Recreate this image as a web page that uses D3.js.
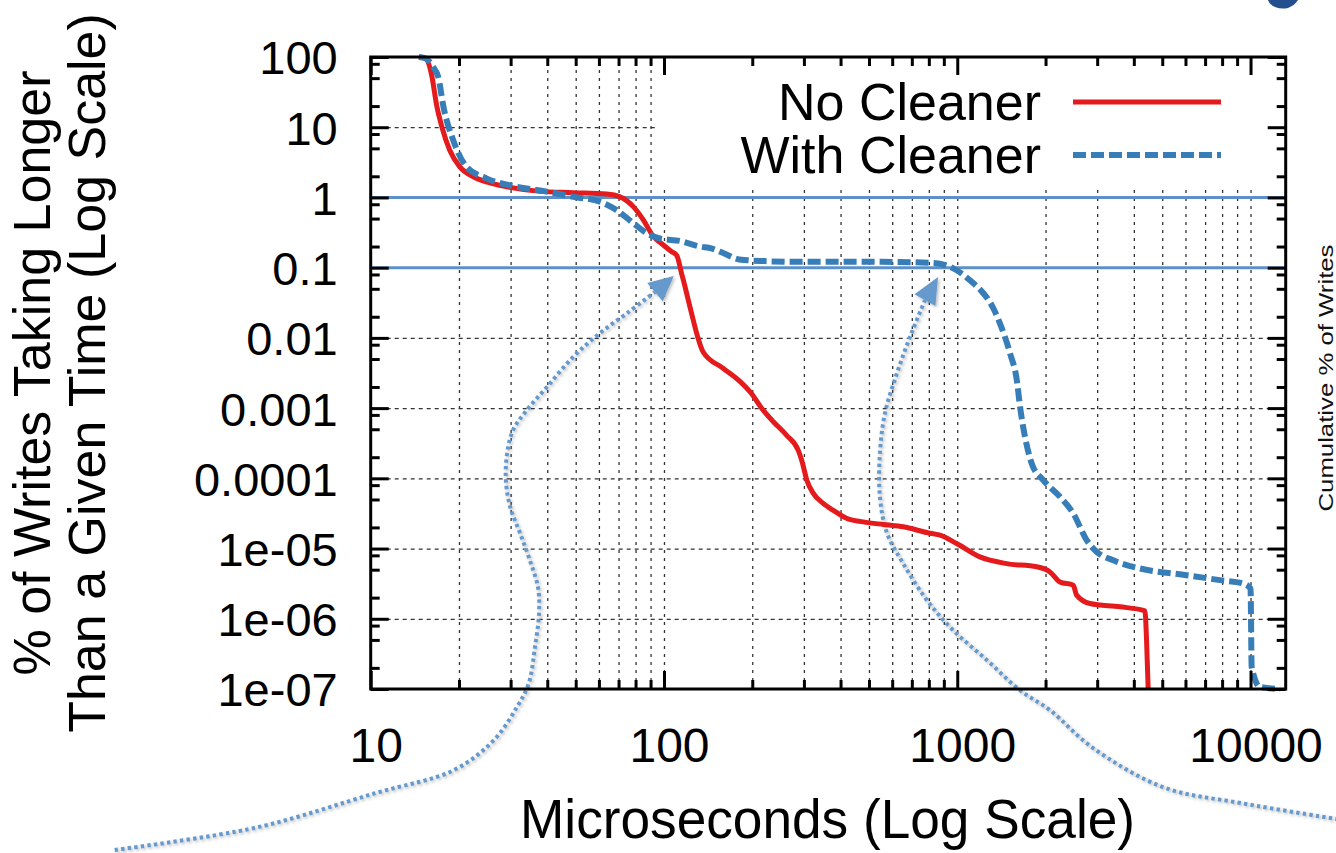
<!DOCTYPE html>
<html><head><meta charset="utf-8">
<script src="https://cdn.jsdelivr.net/npm/d3@7"></script>
<style>
html,body{margin:0;padding:0;background:#fff;}
svg{display:block;font-family:"Liberation Sans",Arial,Helvetica,sans-serif;}
</style>
</head><body>
<svg id="chart" width="1336" height="853"></svg>
<script>
// ---------------- data ----------------
const xTickValues = [10, 100, 1000, 10000];
const xTickLabels = ["10", "100", "1000", "10000"];
const yTickValues = [100, 10, 1, 0.1, 0.01, 0.001, 0.0001, 1e-5, 1e-6, 1e-7];
const yTickLabels = ["100", "10", "1", "0.1", "0.01", "0.001", "0.0001", "1e-05", "1e-06", "1e-07"];
const seriesNames = ["No Cleaner", "With Cleaner"];
const xTitle = "Microseconds (Log Scale)";
const yTitleLines = ["% of Writes Taking Longer", "Than a Given Time (Log Scale)"];
const sideNote = "Cumulative % of Writes";
const referenceLevels = [1, 0.1];

// [microseconds, % of writes taking longer]
const noCleaner = [
  [14.6, 100], [15.4, 95], [16.1, 58], [16.8, 20], [17.5, 10], [18.6, 4.7], [20.1, 2.75],
  [22.4, 1.97], [25, 1.65], [29.1, 1.42], [37.8, 1.22], [49, 1.17], [63.8, 1.12], [70.8, 1.02],
  [78.6, 0.74], [85, 0.48], [91.9, 0.28], [99.5, 0.21], [106, 0.17], [110.5, 0.15], [114.8, 0.083],
  [116.4, 0.067], [120, 0.04], [124.3, 0.022], [130.8, 0.0098], [136, 0.0063], [159, 0.0037],
  [181.5, 0.0024], [199, 0.0016], [215, 0.001], [236, 0.00064], [262, 0.00041], [287, 0.00025],
  [295, 0.00018], [307, 9.4e-5], [323, 6.1e-5], [349, 4.4e-5], [378, 3.5e-5], [419, 2.7e-5],
  [478, 2.4e-5], [560, 2.2e-5], [655, 2.04e-5], [787, 1.69e-5], [874, 1.55e-5], [995, 1.18e-5],
  [1195, 7.6e-6], [1472, 6.1e-6], [1866, 5.5e-6], [2071, 4.65e-6], [2240, 3.35e-6], [2487, 3.0e-6],
  [2553, 2.17e-6], [2833, 1.65e-6], [3586, 1.48e-6], [4365, 1.3e-6], [4420, 5e-7], [4477, 1e-7]
];
const withCleaner = [
  [14.6, 100], [15.4, 95], [16.4, 70], [17.0, 52], [17.7, 19.6], [19.1, 6.6], [21.2, 2.74],
  [24.8, 1.87], [31.5, 1.42], [39.8, 1.21], [49.1, 1.02], [60.5, 0.87], [69, 0.66], [78.6, 0.43],
  [87.3, 0.31], [96.8, 0.26], [113.5, 0.24], [132.8, 0.2], [145, 0.188], [160, 0.16], [180.6, 0.131],
  [220, 0.124], [288, 0.121], [535, 0.121], [826, 0.117], [995, 0.092], [1105, 0.066], [1200, 0.048],
  [1259, 0.038], [1330, 0.026], [1399, 0.016], [1514, 0.006], [1596, 0.0025], [1637, 0.00105],
  [1702, 0.00039], [1794, 0.000163], [1965, 9.4e-5], [2240, 5.45e-5], [2487, 3.16e-5], [2762, 1.32e-5],
  [2987, 9e-6], [3405, 6.8e-6], [4198, 5.2e-6], [6053, 4.18e-6], [7868, 3.55e-6], [9440, 3.18e-6],
  [10000, 2.7e-6], [10090, 2.07e-7], [10770, 1.07e-7], [12600, 1e-7]
];

// annotation call-out arrows, in data units (µs, %)
const annotationA = [
  [1.34, 5.1e-10], [4.1, 1.07e-9], [10.4, 3.3e-9], [19.2, 7.0e-9], [26.3, 1.87e-8], [31.5, 5.5e-8],
  [34.6, 1.21e-7], [36.3, 3.9e-7], [37.5, 1.2e-6], [37.2, 2.8e-6], [34.9, 6.8e-6], [32.3, 1.66e-5],
  [29.9, 3.9e-5], [28.9, 9.4e-5], [29.2, 2.3e-4], [30.6, 4.9e-4], [34.1, 9.4e-4], [39.9, 2.0e-3],
  [48.9, 5.3e-3], [60.5, 0.0117], [74.8, 0.0225], [93.2, 0.045]
];
const annotationATip = [108, 0.076];
const annotationB = [
  [21000, 1.35e-9], [9350, 2.36e-9], [5030, 4.0e-9], [2880, 1.48e-8], [2070, 5.0e-8], [1636, 9.6e-8],
  [1263, 2.57e-7], [967, 6.9e-7], [788, 1.84e-6], [653, 6.2e-6], [576, 1.66e-5], [545, 5.4e-5],
  [545, 2.29e-4], [567, 8.5e-4], [623, 3.15e-3], [690, 0.0103], [776, 0.0345]
];
const annotationBTip = [860, 0.0735];

// ---------------- layout & style ----------------
const RED = "#e41a1c", BLUE = "#377eb8", REF = "#5d90c8", NOTE = "#6699cc";
const plot = {left: 370.7, right: 1285.7, top: 57, bottom: 689};
const svg = d3.select("#chart");

const x = d3.scaleLog().domain([10, 13180]).range([plot.left, plot.right]);
const y = d3.scaleLog().domain([1e-7, 100]).range([plot.bottom, plot.top]);

const xMinor = [];
xTickValues.slice(0, 3).forEach(d => { for (let k = 2; k <= 9; k++) xMinor.push(d * k); });
const yMinor = [];
yTickValues.slice(1).forEach(d => [2, 5, 8].forEach(k => yMinor.push(d * k)));

const defs = svg.append("defs");
const f = defs.append("filter").attr("id", "shadow").attr("x", "-20%").attr("y", "-20%").attr("width", "140%").attr("height", "140%");
f.append("feDropShadow").attr("dx", 1.5).attr("dy", 1.5).attr("stdDeviation", 1.4)
  .attr("flood-color", "#000").attr("flood-opacity", 0.28);

// ---------------- grid ----------------
const gridV = xMinor.concat(xTickValues.slice(1));
svg.append("g").attr("transform", `translate(0,${plot.bottom})`)
  .call(d3.axisBottom(x).tickValues(gridV).tickSize(-(plot.bottom - plot.top)).tickFormat(""))
  .call(g => g.select(".domain").remove())
  .call(g => g.selectAll("line").attr("stroke", "#333").attr("stroke-width", 1.3).attr("stroke-dasharray", "3,5"));
svg.append("g").attr("transform", `translate(${plot.left},0)`)
  .call(d3.axisLeft(y).tickValues(yTickValues.slice(1, -1)).tickSize(-(plot.right - plot.left)).tickFormat(""))
  .call(g => g.select(".domain").remove())
  .call(g => g.selectAll("line").attr("stroke", "#333").attr("stroke-width", 1.3).attr("stroke-dasharray", "4,4"));

// legend background (opaque key box)
svg.append("rect").attr("x", 655).attr("y", plot.top).attr("width", plot.right - 655).attr("height", 188 - plot.top)
  .attr("fill", "#fff");

// reference lines
svg.append("g").selectAll("line").data(referenceLevels).join("line")
  .attr("x1", x.range()[0]).attr("x2", x.range()[1])
  .attr("y1", d => y(d)).attr("y2", d => y(d))
  .attr("stroke", REF).attr("stroke-width", 3);

// ---------------- annotations (call-out arrows) ----------------
const noteLine = d3.line().x(d => x(d[0])).y(d => y(d[1])).curve(d3.curveCatmullRom.alpha(0.5));
function drawNote(pts, tip) {
  const g = svg.append("g").attr("filter", "url(#shadow)");
  g.append("path").attr("d", noteLine(pts)).attr("fill", "none").attr("stroke", NOTE)
    .attr("stroke-width", 4).attr("stroke-dasharray", "3.4,3.2");
  const last = pts[pts.length - 1];
  const mx = x(last[0]), my = y(last[1]), tx = x(tip[0]), ty = y(tip[1]);
  const L = Math.hypot(tx - mx, ty - my), ux = (tx - mx) / L, uy = (ty - my) / L;
  const nx = -uy, ny = ux, w = 12;
  g.append("path").attr("d", `M${tx},${ty}L${mx + nx * w},${my + ny * w}L${mx - nx * w},${my - ny * w}Z`)
    .attr("fill", NOTE);
}
drawNote(annotationA, annotationATip);
drawNote(annotationB, annotationBTip);

// ---------------- series ----------------
const line = d3.line().x(d => x(d[0])).y(d => y(d[1])).curve(d3.curveMonotoneX);
svg.append("path").datum(noCleaner).attr("d", line).attr("fill", "none")
  .attr("stroke", RED).attr("stroke-width", 5).attr("stroke-linejoin", "round");
svg.append("path").datum(withCleaner).attr("d", line).attr("fill", "none")
  .attr("stroke", BLUE).attr("stroke-width", 6).attr("stroke-dasharray", "13,5");

// ---------------- legend ----------------
const legend = svg.append("g");
const legendColors = [RED, BLUE];
const legendDash = [null, "13,5"];
const legendWidths = [5, 6];
seriesNames.forEach((name, i) => {
  const base = 120 + i * 53;
  legend.append("text").attr("x", 1041).attr("y", base).attr("text-anchor", "end")
    .attr("font-size", 52).attr("fill", "#000").text(name);
  legend.append("line").attr("x1", 1073).attr("x2", 1221).attr("y1", base - 18).attr("y2", base - 18)
    .attr("stroke", legendColors[i]).attr("stroke-width", legendWidths[i])
    .attr("stroke-dasharray", legendDash[i]);
});

// ---------------- axes ----------------
function styleTicks(g) {
  g.select(".domain").remove();
  g.selectAll("line").attr("stroke", "#000").attr("stroke-width", 3);
}
// bottom
const gxb = svg.append("g").attr("transform", `translate(0,${plot.bottom})`)
  .call(d3.axisBottom(x).tickValues(xTickValues).tickSize(-18).tickPadding(39)
    .tickFormat((d, i) => xTickLabels[i]))
  .call(styleTicks);
gxb.selectAll("text").attr("font-size", 48).attr("fill", "#000").attr("dx", 5)
  .attr("font-family", "'Liberation Sans', Arial, sans-serif");
svg.append("g").attr("transform", `translate(0,${plot.bottom})`)
  .call(d3.axisBottom(x).tickValues(xMinor).tickSize(-9).tickFormat("")).call(styleTicks);
// top
svg.append("g").attr("transform", `translate(0,${plot.top})`)
  .call(d3.axisTop(x).tickValues(xTickValues).tickSize(-18).tickFormat("")).call(styleTicks);
svg.append("g").attr("transform", `translate(0,${plot.top})`)
  .call(d3.axisTop(x).tickValues(xMinor).tickSize(-9).tickFormat("")).call(styleTicks);
// left
const gyl = svg.append("g").attr("transform", `translate(${plot.left},0)`)
  .call(d3.axisLeft(y).tickValues(yTickValues).tickSize(-18).tickPadding(33)
    .tickFormat((d, i) => yTickLabels[i]))
  .call(styleTicks);
gyl.selectAll("text").attr("font-size", 47).attr("fill", "#000").attr("dy", "0.36em")
  .attr("font-family", "'Liberation Sans', Arial, sans-serif");
svg.append("g").attr("transform", `translate(${plot.left},0)`)
  .call(d3.axisLeft(y).tickValues(yMinor).tickSize(-9).tickFormat("")).call(styleTicks);
// right
svg.append("g").attr("transform", `translate(${plot.right},0)`)
  .call(d3.axisRight(y).tickValues(yTickValues).tickSize(-18).tickFormat("")).call(styleTicks);
svg.append("g").attr("transform", `translate(${plot.right},0)`)
  .call(d3.axisRight(y).tickValues(yMinor).tickSize(-9).tickFormat("")).call(styleTicks);

// frame
svg.append("rect").attr("x", plot.left).attr("y", plot.top)
  .attr("width", plot.right - plot.left).attr("height", plot.bottom - plot.top)
  .attr("fill", "none").attr("stroke", "#000").attr("stroke-width", 3);

// ---------------- titles ----------------
svg.append("text").attr("x", 520).attr("y", 838).attr("font-size", 56)
  .attr("textLength", 615).attr("lengthAdjust", "spacingAndGlyphs").attr("fill", "#000").text(xTitle);

const cy = (plot.top + plot.bottom) / 2;
yTitleLines.forEach((t, i) => {
  svg.append("text").attr("transform", `translate(${50 + i * 55},${cy}) rotate(-90)`)
    .attr("text-anchor", "middle").attr("font-size", 52).attr("fill", "#000").text(t);
});

svg.append("text").attr("transform", `translate(1333,378) rotate(-90)`)
  .attr("text-anchor", "middle").attr("font-size", 20).attr("textLength", 267)
  .attr("lengthAdjust", "spacingAndGlyphs").attr("fill", "#111").text(sideNote);

// decorative fragment of slide graphic (top-right corner)
svg.append("path").attr("d", "M1268,0 C1270,7 1280,10 1288,8 C1293,6 1296,3 1298,0 Z").attr("fill", "#234f8e");
</script>
</body></html>
